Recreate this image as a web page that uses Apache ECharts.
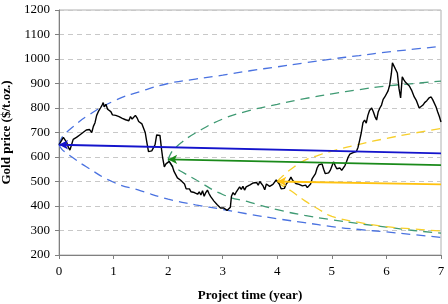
<!DOCTYPE html>
<html><head><meta charset="utf-8">
<script src="https://cdn.jsdelivr.net/npm/echarts@6/dist/echarts.min.js"></script>
<style>html,body{margin:0;padding:0;background:#fff}#c{width:448px;height:304px}</style>
</head><body><div id="c"></div>
<script>
const yTicks = [200,300,400,500,600,700,800,900,1000,1100,1200];
const xTicks = [0,1,2,3,4,5,6,7];
const pricePath = [[0,650],[0.04,665],[0.08,680],[0.11,686],[0.14,660],[0.17,640],[0.2,628],[0.23,650],[0.26,672],[0.29,665],[0.32,680],[0.35,672],[0.38,690],[0.41,684],[0.44,700],[0.47,692],[0.5,710],[0.53,702],[0.56,712],[0.6,700],[0.63,725],[0.66,740],[0.69,770],[0.72,785],[0.76,800],[0.79,812],[0.81,822],[0.83,805],[0.86,815],[0.89,795],[0.92,798],[0.95,785],[0.98,772],[1.01,780],[1.04,770],[1.07,776],[1.1,765],[1.13,770],[1.16,758],[1.19,764],[1.22,752],[1.25,760],[1.28,748],[1.31,765],[1.34,755],[1.37,750],[1.4,770],[1.43,760],[1.46,745],[1.49,740],[1.52,735],[1.55,728],[1.58,700],[1.61,660],[1.64,622],[1.67,615],[1.7,625],[1.73,618],[1.76,650],[1.79,690],[1.82,682],[1.85,688],[1.88,630],[1.9,596],[1.93,560],[1.96,572],[1.99,565],[2.02,582],[2.05,572],[2.08,560],[2.11,540],[2.14,535],[2.17,515],[2.2,520],[2.23,505],[2.26,500],[2.3,490],[2.33,470],[2.36,462],[2.39,470],[2.42,458],[2.45,465],[2.48,455],[2.51,460],[2.54,448],[2.57,458],[2.6,445],[2.63,462],[2.66,440],[2.69,455],[2.72,465],[2.75,450],[2.78,438],[2.81,430],[2.84,420],[2.87,425],[2.9,405],[2.93,400],[2.96,392],[2.99,385],[3.02,392],[3.05,388],[3.08,382],[3.11,390],[3.14,395],[3.16,440],[3.19,455],[3.22,445],[3.25,458],[3.28,452],[3.31,478],[3.34,468],[3.37,480],[3.4,465],[3.43,478],[3.46,472],[3.5,486],[3.53,480],[3.56,494],[3.59,488],[3.62,496],[3.65,485],[3.68,500],[3.71,492],[3.74,482],[3.77,466],[3.8,490],[3.83,498],[3.86,480],[3.89,472],[3.92,488],[3.95,495],[3.98,506],[4.01,500],[4.04,488],[4.07,470],[4.1,478],[4.13,472],[4.16,488],[4.19,480],[4.22,505],[4.25,518],[4.28,505],[4.31,498],[4.34,492],[4.37,500],[4.4,488],[4.43,492],[4.46,482],[4.49,490],[4.52,485],[4.55,475],[4.58,470],[4.61,490],[4.64,512],[4.67,522],[4.7,532],[4.73,555],[4.76,568],[4.79,560],[4.82,572],[4.85,550],[4.88,532],[4.91,540],[4.94,535],[4.97,545],[5.0,540],[5.03,580],[5.06,565],[5.09,552],[5.12,548],[5.15,555],[5.18,545],[5.21,552],[5.24,565],[5.27,582],[5.3,600],[5.33,612],[5.36,608],[5.39,618],[5.42,612],[5.45,622],[5.48,640],[5.51,669],[5.54,700],[5.57,740],[5.6,751],[5.63,738],[5.66,770],[5.69,790],[5.73,800],[5.76,785],[5.79,765],[5.82,751],[5.85,785],[5.88,800],[5.91,812],[5.94,835],[5.97,845],[6.0,853],[6.03,870],[6.06,894],[6.09,940],[6.11,984],[6.13,975],[6.16,967],[6.2,943],[6.23,880],[6.26,841],[6.29,927],[6.32,915],[6.35,905],[6.38,902],[6.42,890],[6.46,873],[6.51,845],[6.55,830],[6.6,800],[6.63,805],[6.67,812],[6.7,822],[6.74,830],[6.78,841],[6.82,845],[6.85,833],[6.88,828],[6.91,804],[6.94,784],[6.97,765],[7.0,743]];
const blueMean = [[0,650],[7,615]];
const blueUpper = [[0,650],[0.05,678],[0.1,692],[0.25,722],[0.5,765],[1,828],[1.5,868],[2,900],[2.5,918],[3,934],[3.5,952],[4,968],[4.5,984],[5,1000],[5.5,1014],[6,1028],[6.5,1040],[7,1052]];
const blueLower = [[0,650],[0.05,632],[0.1,622],[0.25,598],[0.5,560],[1,497],[1.5,462],[2,428],[2.5,405],[3,386],[3.5,366],[4,348],[4.5,332],[5,316],[5.5,304],[6,294],[6.5,283],[7,272]];
const greenMean = [[2,590],[7,567]];
const greenUpper = [[2,590],[2.05,615],[2.1,630],[2.25,660],[2.5,698],[3,755],[3.5,790],[4,815],[4.5,838],[5,858],[5.5,875],[6,890],[6.5,900],[7,910]];
const greenLower = [[2,590],[2.05,570],[2.1,560],[2.25,540],[2.5,508],[3,447],[3.5,415],[4,385],[4.5,362],[5,344],[5.5,328],[6,314],[6.5,300],[7,289]];
const yellowMean = [[4,500],[7,488]];
const yellowUpper = [[4,500],[4.05,512],[4.1,522],[4.25,550],[4.5,586],[4.75,607],[5,624],[5.5,652],[6,676],[6.5,697],[7,716]];
const yellowLower = [[4,500],[4.05,490],[4.1,482],[4.25,462],[4.5,422],[4.75,388],[5,358],[5.5,333],[6,316],[6.5,306],[7,298]];

const FONT = '"Liberation Serif","Times New Roman",serif';
function dashed(data, color){
  return {type:'line', data:data, smooth:0.5, showSymbol:false, symbol:'none', z:2,
    lineStyle:{color:color, width:1.3, type:[9,6]}};
}
function mean(data, color){
  const d = data.map((p,i)=> i===0 ? {value:p, symbol:'arrow', symbolSize:[7,9], symbolRotate:90, itemStyle:{color:color}} : {value:p, symbol:'none'});
  return {type:'line', data:d, showSymbol:true, z:4, lineStyle:{color:color, width:1.8}, itemStyle:{color:color}};
}
const chart = echarts.init(document.getElementById('c'), null, {renderer:'canvas'});
chart.setOption({
  animation:false,
  backgroundColor:'#fff',
  grid:{left:59, right:7, top:10, bottom:49, outerBoundsMode:'none', containLabel:false, show:true, borderColor:'#b0b0b0', borderWidth:1},
  xAxis:{type:'value', min:0, max:7, interval:1,
    name:'Project time (year)', nameLocation:'middle', nameGap:34,
    nameTextStyle:{fontFamily:FONT, fontWeight:'bold', fontSize:13, color:'#000'},
    axisLine:{show:true, lineStyle:{color:'#808080'}},
    axisTick:{show:true, length:4, lineStyle:{color:'#808080'}},
    axisLabel:{fontFamily:FONT, fontSize:13, color:'#000', margin:10, formatter: v => String(v)},
    splitLine:{show:false}},
  yAxis:{type:'value', min:200, max:1200, interval:100,
    name:'Gold price ($/t.oz.)', nameLocation:'middle', nameGap:44, nameRotate:90,
    nameTextStyle:{fontFamily:FONT, fontWeight:'bold', fontSize:13, color:'#000'},
    axisLine:{show:true, lineStyle:{color:'#808080'}},
    axisTick:{show:true, length:4, lineStyle:{color:'#808080'}},
    axisLabel:{fontFamily:FONT, fontSize:13, color:'#000', margin:9, formatter: v => String(v)},
    splitLine:{show:true, lineStyle:{color:'#c8c8c8', type:[5,4]}}},
  series:[
    dashed(blueUpper,'#4a72e0'), dashed(blueLower,'#4a72e0'),
    dashed(greenUpper,'#3f9a73'), dashed(greenLower,'#3f9a73'),
    dashed(yellowUpper,'#f7cf2a'), dashed(yellowLower,'#f7cf2a'),
    {type:'line', data:pricePath, showSymbol:false, symbol:'none', z:3, lineStyle:{color:'#000', width:1.4}},
    mean(blueMean,'#1414cc'), mean(greenMean,'#1a8a1a'), mean(yellowMean,'#ffc20e')
  ]
});
</script></body></html>
